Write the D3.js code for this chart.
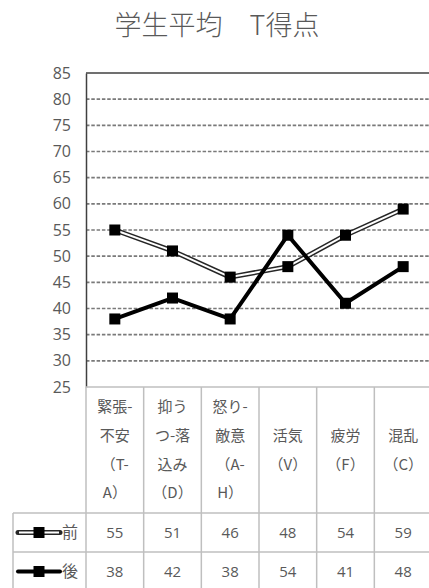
<!DOCTYPE html>
<html>
<head>
<meta charset="utf-8">
<script src="https://cdn.jsdelivr.net/npm/d3@7"></script>
<style>
  html, body { margin: 0; padding: 0; background: #fff; }
  svg { display: block; }
  text { font-family: "Noto Sans CJK JP", "Noto Sans", sans-serif; fill: #595959; }
</style>
</head>
<body>
<svg id="chart" width="429" height="588"></svg>
<script>
// Category labels, split into the lines shown in each header cell
const categories = ["緊張-不安（T-A）", "抑うつ-落込み（D）", "怒り-敵意（A-H）", "活気（V）", "疲労（F）", "混乱（C）"];
const categoryLines = [
  ["緊張-", "不安", "（T-", "A）"],
  ["抑う", "つ-落", "込み", "（D）"],
  ["怒り-", "敵意", "（A-", "H）"],
  ["活気", "（V）"],
  ["疲労", "（F）"],
  ["混乱", "（C）"]
];
const seriesNames = ["前", "後"];
const beforeValues = [55, 51, 46, 48, 54, 59];
const afterValues = [38, 42, 38, 54, 41, 48];
const yTicks = [25, 30, 35, 40, 45, 50, 55, 60, 65, 70, 75, 80, 85];

const svg = d3.select("#chart");
const plot = { left: 86, right: 432, top: 73, bottom: 387 };

const x = d3.scaleBand().domain(categories).range([plot.left, plot.right]);
const y = d3.scaleLinear().domain([25, 85]).range([plot.bottom, plot.top]);

// Title
svg.append("text")
  .attr("x", 217).attr("y", 23.5)
  .attr("dominant-baseline", "central")
  .attr("text-anchor", "middle")
  .style("font-size", "27px")
  .style("font-weight", 300)
  .text("学生平均　T得点");

// Dashed gridlines
svg.append("g")
  .selectAll("line")
  .data(yTicks.filter(t => t > 25 && t < 85))
  .join("line")
  .attr("x1", plot.left).attr("x2", plot.right)
  .attr("y1", d => y(d)).attr("y2", d => y(d))
  .attr("stroke", "#7a7a7a")
  .attr("stroke-width", 1.6)
  .attr("stroke-dasharray", "3.5,1.8");

// Top border of the plot area
svg.append("line")
  .attr("x1", plot.left).attr("x2", plot.right)
  .attr("y1", y(85)).attr("y2", y(85))
  .attr("stroke", "#404040").attr("stroke-width", 1.5);

// Y axis
const yAxis = svg.append("g")
  .attr("transform", `translate(${plot.left},0)`)
  .call(d3.axisLeft(y).tickValues(yTicks).tickSize(0).tickPadding(15));
yAxis.select(".domain").attr("stroke", "#404040").attr("stroke-width", 1.5);
yAxis.selectAll("text")
  .style("font-size", "16px")
  .style("font-family", "'Open Sans', 'Noto Sans', sans-serif")
  .attr("fill", "#595959");

// Data table below the plot
const tableTop = plot.bottom;
const headerBottom = 513;
const rowH = 39;
const legendLeft = 13;
const gridColor = "#bfbfbf";
const table = svg.append("g");

// horizontal rules
table.append("line")
  .attr("x1", plot.left).attr("x2", plot.right)
  .attr("y1", tableTop).attr("y2", tableTop)
  .attr("stroke", gridColor).attr("stroke-width", 1.5);
[0, 1, 2].forEach(i => {
  table.append("line")
    .attr("x1", legendLeft).attr("x2", plot.right)
    .attr("y1", headerBottom + i * rowH).attr("y2", headerBottom + i * rowH)
    .attr("stroke", gridColor).attr("stroke-width", 1.5);
});
// vertical rules
categories.forEach((c, i) => {
  table.append("line")
    .attr("x1", x(c) + x.bandwidth()).attr("x2", x(c) + x.bandwidth())
    .attr("y1", tableTop).attr("y2", 588)
    .attr("stroke", gridColor).attr("stroke-width", 1.5);
});
table.append("line")
  .attr("x1", plot.left).attr("x2", plot.left)
  .attr("y1", tableTop).attr("y2", 588)
  .attr("stroke", gridColor).attr("stroke-width", 1.5);
table.append("line")
  .attr("x1", legendLeft).attr("x2", legendLeft)
  .attr("y1", headerBottom).attr("y2", 588)
  .attr("stroke", gridColor).attr("stroke-width", 1.5);

// header text, vertically centred in the cell
const lineGap = 28.6;
const headerMid = (tableTop + headerBottom) / 2;
categories.forEach((c, i) => {
  const lines = categoryLines[i];
  const cx = x(c) + x.bandwidth() / 2;
  lines.forEach((t, j) => {
    table.append("text")
      .attr("x", cx)
      .attr("y", headerMid + (j - (lines.length - 1) / 2) * lineGap)
      .attr("dy", "0.35em")
      .attr("text-anchor", "middle")
      .style("font-size", "15px")
      .text(t);
  });
});

// value rows
[beforeValues, afterValues].forEach((vals, r) => {
  const cy = headerBottom + r * rowH + rowH / 2;
  vals.forEach((v, i) => {
    table.append("text")
      .attr("x", x(categories[i]) + x.bandwidth() / 2)
      .attr("y", cy).attr("dy", "0.35em")
      .attr("text-anchor", "middle")
      .style("font-size", "15px")
      .style("font-family", "'Open Sans', 'Noto Sans', sans-serif")
      .text(v);
  });
});

// Line series
const line = d3.line()
  .x((d, i) => x(categories[i]) + x.bandwidth() / 2)
  .y(d => y(d));

function drawSeries(g, vals, doubled, markerSize) {
  g.append("path").datum(vals)
    .attr("d", line).attr("fill", "none")
    .attr("stroke", doubled ? "#262626" : "#000")
    .attr("stroke-width", doubled ? 5 : 4)
    .attr("stroke-linejoin", "round");
  if (doubled) {
    g.append("path").datum(vals)
      .attr("d", line).attr("fill", "none")
      .attr("stroke", "#fff").attr("stroke-width", 2)
      .attr("stroke-linejoin", "round");
  }
  g.selectAll("rect.m").data(vals).join("rect")
    .attr("class", "m")
    .attr("x", (d, i) => x(categories[i]) + x.bandwidth() / 2 - markerSize / 2)
    .attr("y", d => y(d) - markerSize / 2)
    .attr("width", markerSize).attr("height", markerSize)
    .attr("fill", "#000");
}

drawSeries(svg.append("g"), beforeValues, true, 11);
drawSeries(svg.append("g"), afterValues, false, 11);

// Legend keys in the table rows
[true, false].forEach((doubled, r) => {
  const cy = headerBottom + r * rowH + rowH / 2;
  const g = svg.append("g");
  g.append("line").attr("x1", 18).attr("x2", 60).attr("y1", cy).attr("y2", cy)
    .attr("stroke", doubled ? "#262626" : "#000").attr("stroke-width", doubled ? 5 : 4)
    .attr("stroke-linecap", "round");
  if (doubled) {
    g.append("line").attr("x1", 19).attr("x2", 59).attr("y1", cy).attr("y2", cy)
      .attr("stroke", "#fff").attr("stroke-width", 2);
  }
  g.append("rect").attr("x", 39 - 5.5).attr("y", cy - 5.5)
    .attr("width", 11).attr("height", 11).attr("fill", "#000");
  g.append("text").attr("x", 62).attr("y", cy).attr("dy", "0.35em")
    .style("font-size", "16px").text(seriesNames[r]);
});
</script>
</body>
</html>
